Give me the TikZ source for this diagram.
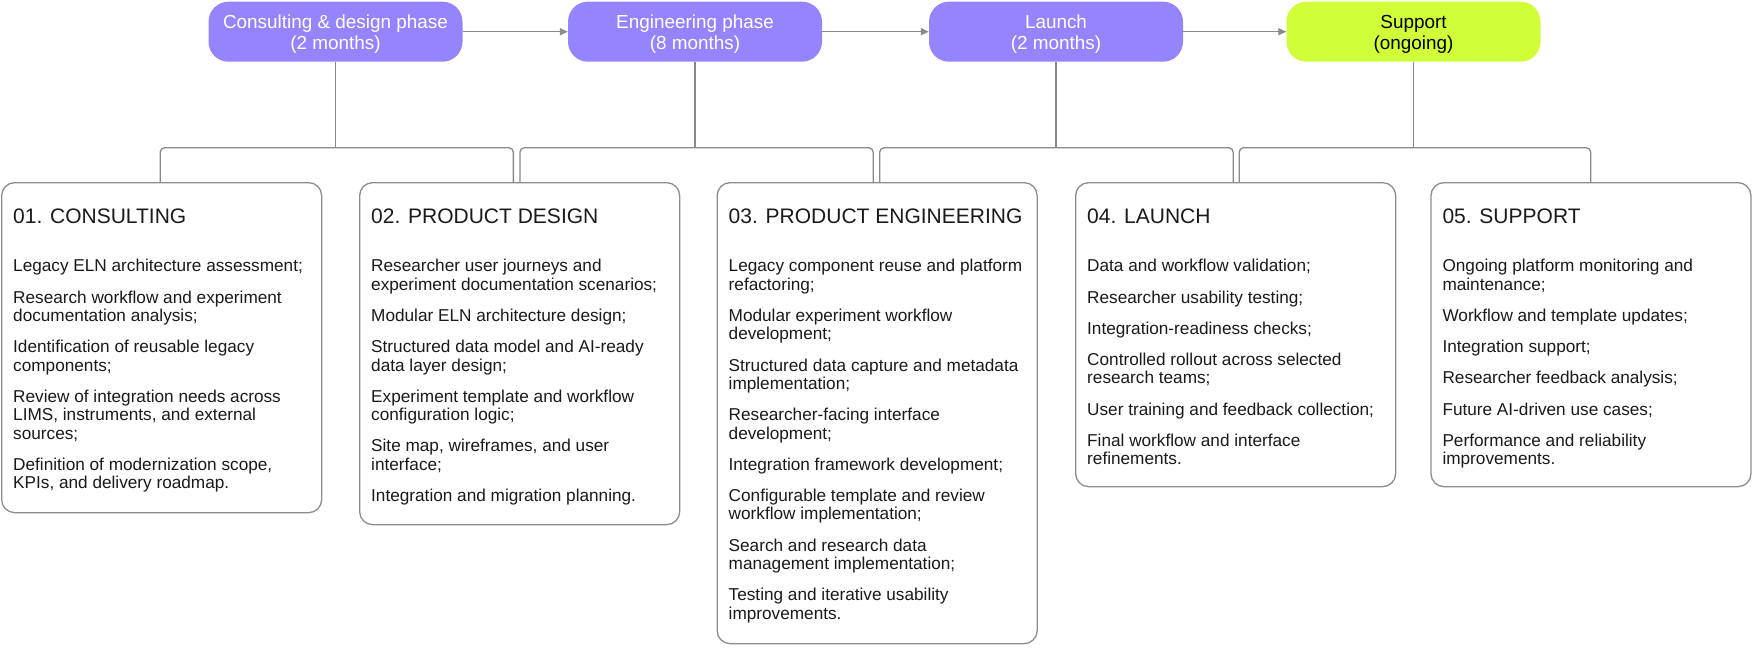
\documentclass[tikz,border=0pt]{standalone}
\usepackage{fontspec}
\setmainfont{Liberation Sans}
\usetikzlibrary{arrows.meta}
\definecolor{phasepurple}{RGB}{148,133,255}
\definecolor{phaselime}{RGB}{208,255,58}
\definecolor{linegray}{RGB}{138,138,138}
\definecolor{boxgray}{RGB}{140,140,140}
\definecolor{txtcol}{RGB}{26,26,26}
\newcommand\mybodyfont{\fontsize{17.2}{18.4}\selectfont}
\newcommand\mytitlefont{\fontsize{21}{24}\selectfont}
\newcommand\myphasefont{\fontsize{18.9}{21}\selectfont}
\newcommand\firststrut{\rule{0pt}{15pt}}
\newcommand\phasestrut{\rule{0pt}{18.8pt}}
\tikzset{
  phase/.style={rounded corners=20pt, minimum width=254pt, minimum height=60pt,
    inner sep=0pt, align=center, font=\myphasefont},
  purplephase/.style={phase, fill=phasepurple, text=white},
  limephase/.style={phase, fill=phaselime, text=black},
  cbox/.style={draw=boxgray, line width=1.3pt, rounded corners=13pt,
    minimum width=320pt, inner sep=0pt, anchor=north west},
  ctitle/.style={anchor=base west, font=\mytitlefont, text=txtcol, inner sep=0pt},
  citems/.style={anchor=north west, align=left, font=\mybodyfont, text=txtcol, inner sep=0pt},
  conn/.style={draw=linegray, line width=1.3pt},
  arr/.style={conn, -{Triangle[length=8pt,width=7pt]}},
  bracket/.style={conn, rounded corners=4.5pt}
}
\begin{document}
\begin{tikzpicture}[x=1pt,y=-1pt]
\useasboundingbox (0,0) rectangle (1752,664);
\fill[white] (0,0) rectangle (1752,664);

% phase nodes
\node[purplephase] (p1) at (335.5,31.7) {\phasestrut Consulting \& design phase\\(2 months)};
\node[purplephase] (p2) at (695,31.7) {\phasestrut Engineering phase\\(8 months)};
\node[purplephase] (p3) at (1056,31.7) {\phasestrut Launch\\(2 months)};
\node[limephase]   (p4) at (1413.5,31.7) {\phasestrut Support\\(ongoing)};

\draw[arr] (p1.east) -- (p2.west);
\draw[arr] (p2.east) -- (p3.west);
\draw[arr] (p3.east) -- (p4.west);

% content boxes
\node[cbox, minimum height=330pt] (b1) at (1,182) {};
\node[cbox, minimum height=342pt] (b2) at (359,182) {};
\node[cbox, minimum height=461pt] (b3) at (716.5,182) {};
\node[cbox, minimum height=304pt] (b4) at (1075,182) {};
\node[cbox, minimum height=304pt] (b5) at (1430.3,182) {};

% junctions
\coordinate (j1) at (p1.south |- 0,147.7);
\coordinate (j2) at (p2.south |- 0,147.7);
\coordinate (j3) at (p3.south |- 0,147.7);
\coordinate (j4) at (p4.south |- 0,147.7);

\draw[conn] (p1.south) -- (j1);
\draw[conn] (p2.south) -- (j2);
\draw[conn] (p3.south) -- (j3);
\draw[conn] (p4.south) -- (j4);

\draw[bracket] ([xshift=-1.5pt]b1.north) |- (j1) -| ([xshift=-6.3pt]b2.north);
\draw[bracket] ([xshift=0.3pt]b2.north) |- (j2) -| ([xshift=-4pt]b3.north);
\draw[bracket] ([xshift=2.5pt]b3.north) |- (j3) -| ([xshift=-2.5pt]b4.north);
\draw[bracket] ([xshift=3.5pt]b4.north) |- (j4) -| ([xshift=-0.3pt]b5.north);

% titles
\node[ctitle] (t1) at ([shift={(12,41.3)}]b1.north west) {01. CONSULTING};
\node[ctitle] (t2) at ([shift={(12,41.3)}]b2.north west) {02. PRODUCT DESIGN};
\node[ctitle] (t3) at ([shift={(12,41.3)}]b3.north west) {03. PRODUCT ENGINEERING};
\node[ctitle] (t4) at ([shift={(12,41.3)}]b4.north west) {04. LAUNCH};
\node[ctitle] (t5) at ([shift={(12,41.3)}]b5.north west) {05. SUPPORT};

% items
\node[citems] (i1) at ([shift={(12,74.7)}]b1.north west) {\firststrut Legacy ELN architecture assessment;\\[12.8pt]
Research workflow and experiment\\documentation analysis;\\[12.8pt]
Identification of reusable legacy\\components;\\[12.8pt]
Review of integration needs across\\LIMS, instruments, and external\\sources;\\[12.8pt]
Definition of modernization scope,\\KPIs, and delivery roadmap.};

\node[citems] (i2) at ([shift={(12,74.7)}]b2.north west) {\firststrut Researcher user journeys and\\experiment documentation scenarios;\\[12.8pt]
Modular ELN architecture design;\\[12.8pt]
Structured data model and AI-ready\\data layer design;\\[12.8pt]
Experiment template and workflow\\configuration logic;\\[12.8pt]
Site map, wireframes, and user\\interface;\\[12.8pt]
Integration and migration planning.};

\node[citems] (i3) at ([shift={(12,74.7)}]b3.north west) {\firststrut Legacy component reuse and platform\\refactoring;\\[12.8pt]
Modular experiment workflow\\development;\\[12.8pt]
Structured data capture and metadata\\implementation;\\[12.8pt]
Researcher-facing interface\\development;\\[12.8pt]
Integration framework development;\\[12.8pt]
Configurable template and review\\workflow implementation;\\[12.8pt]
Search and research data\\management implementation;\\[12.8pt]
Testing and iterative usability\\improvements.};

\node[citems] (i4) at ([shift={(12,74.7)}]b4.north west) {\firststrut Data and workflow validation;\\[12.8pt]
Researcher usability testing;\\[12.8pt]
Integration-readiness checks;\\[12.8pt]
Controlled rollout across selected\\research teams;\\[12.8pt]
User training and feedback collection;\\[12.8pt]
Final workflow and interface\\refinements.};

\node[citems] (i5) at ([shift={(12,74.7)}]b5.north west) {\firststrut Ongoing platform monitoring and\\maintenance;\\[12.8pt]
Workflow and template updates;\\[12.8pt]
Integration support;\\[12.8pt]
Researcher feedback analysis;\\[12.8pt]
Future AI-driven use cases;\\[12.8pt]
Performance and reliability\\improvements.};
\end{tikzpicture}
\end{document}
